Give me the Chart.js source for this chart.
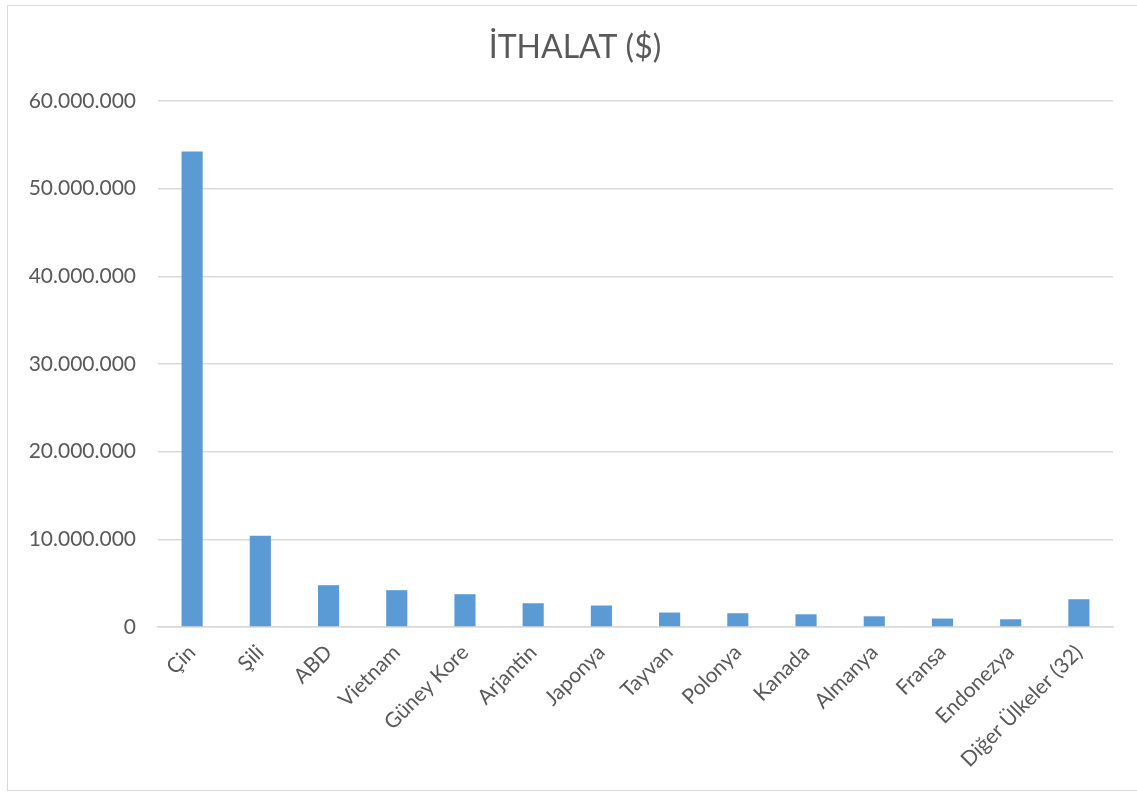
<!DOCTYPE html>
<html>
<head>
<meta charset="utf-8">
<script src="https://cdn.jsdelivr.net/npm/chart.js"></script>
<style>
  body { margin: 0; background: #fff; }
  #wrap { position: relative; width: 1137px; height: 796px; }
  #frame { position: absolute; left: 7px; top: 5px; width: 1140px; height: 786px; border: 1px solid #d9d9d9; box-sizing: border-box; }
  canvas { position: absolute; left: 0; top: 0; }
</style>
</head>
<body>
<div id="wrap">
  <div id="frame"></div>
  <canvas id="myChart" width="1137" height="796"></canvas>
</div>
<script>
// ithalat verisi (ülke bazında, $)
var countries = ['Çin', 'Şili', 'ABD', 'Vietnam', 'Güney Kore', 'Arjantin', 'Japonya',
  'Tayvan', 'Polonya', 'Kanada', 'Almanya', 'Fransa', 'Endonezya', 'Diğer Ülkeler (32)'];
var imports = [54250000, 10400000, 4770000, 4200000, 3740000, 2710000, 2450000,
  1650000, 1570000, 1450000, 1220000, 960000, 880000, 3170000];
var yTicks = [0, 10000000, 20000000, 30000000, 40000000, 50000000, 60000000];

function formatTR(v) {
  return v.toString().replace(/\B(?=(\d{3})+(?!\d))/g, '.');
}

// başlığı biraz sağa kaydır
var titleShift = {
  id: 'titleShift',
  afterLayout: function(chart) {
    if (chart.titleBlock) {
      chart.titleBlock.left += 14.5;
      chart.titleBlock.right += 14.5;
    }
  }
};

var ctx = document.getElementById('myChart').getContext('2d');
new Chart(ctx, {
  type: 'bar',
  data: {
    labels: countries,
    datasets: [{
      data: imports,
      backgroundColor: '#5b9bd5',
      borderWidth: 0,
      barPercentage: 0.31,
      categoryPercentage: 1
    }]
  },
  options: {
    responsive: false,
    animation: false,
    layout: { padding: { left: 8, right: 24, top: 0, bottom: 9 } },
    plugins: {
      legend: { display: false },
      tooltip: { enabled: false },
      title: {
        display: true,
        text: 'İTHALAT ($)',
        color: '#595959',
        font: { family: 'Lato', size: 32, weight: 'normal', lineHeight: 1.2 },
        padding: { top: 28, bottom: 34.6 }
      }
    },
    scales: {
      y: {
        min: 0,
        max: 60000000,
        afterBuildTicks: function(scale) {
          scale.ticks = yTicks.map(function(v) { return { value: v }; });
        },
        afterFit: function(scale) { scale.width = 150; },
        border: { display: false },
        grid: { color: '#d9d9d9', lineWidth: 1.5, drawTicks: false },
        ticks: {
          color: '#595959',
          padding: 22,
          font: { family: 'Lato', size: 21 },
          callback: function(v) { return formatTR(v); }
        }
      },
      x: {
        afterFit: function(scale) { scale.height = 160; },
        border: { color: '#d9d9d9', width: 1.5 },
        grid: { display: false },
        ticks: {
          color: '#595959',
          maxRotation: 45,
          minRotation: 45,
          autoSkip: false,
          padding: 5,
          font: { family: 'Lato', size: 21 }
        }
      }
    }
  },
  plugins: [titleShift]
});
</script>
</body>
</html>
